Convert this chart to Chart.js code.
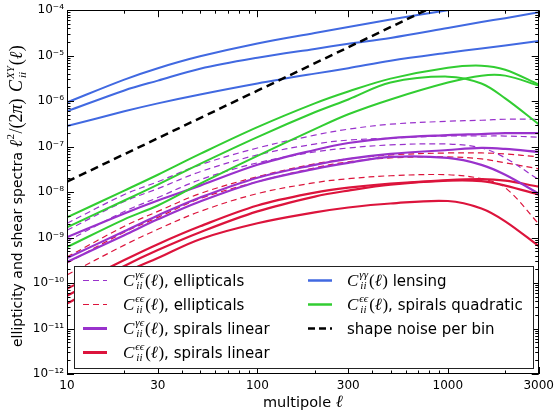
<!DOCTYPE html>
<html>
<head>
<meta charset="utf-8">
<script src="https://cdn.jsdelivr.net/npm/chart.js@4.4.1/dist/chart.umd.min.js"></script>
<style>
    html, body { margin: 0; padding: 0; background: #fff; }
    #caja { width: 559px; height: 417px; }
</style>
</head>
<body>
<div id="caja"><canvas id="grafica" width="559" height="417"></canvas></div>
<script>
const ells = [10, 20, 30, 50, 100, 200, 300, 500, 1000, 1500, 2000, 3000];

// C^{γγ} lensing, three bins
const lensing1 = [9.39e-7, 2.98e-6, 5.31e-6, 9.69e-6, 1.86e-5, 3.15e-5, 4.26e-5, 6.21e-5, 1.0e-4, 1.29e-4, 1.57e-4, 2.02e-4];
const lensing2 = [5.98e-7, 1.72e-6, 2.83e-6, 5.17e-6, 8.99e-6, 1.41e-5, 1.82e-5, 2.45e-5, 4.05e-5, 5.48e-5, 6.69e-5, 9.04e-5];
const lensing3 = [2.82e-7, 5.98e-7, 8.93e-7, 1.4e-6, 2.44e-6, 4.03e-6, 5.31e-6, 7.73e-6, 1.16e-5, 1.44e-5, 1.68e-5, 2.11e-5];

// C^{εε} spirals quadratic
const quad1 = [2.78e-9, 1.08e-8, 2.41e-8, 6.91e-8, 2.68e-7, 8.93e-7, 1.63e-6, 3.13e-6, 5.44e-6, 6.02e-6, 4.92e-6, 2.32e-6];
const quad2 = [1.68e-9, 6.53e-9, 1.46e-8, 4.18e-8, 1.62e-7, 5.69e-7, 1.09e-6, 2.56e-6, 3.46e-6, 2.44e-6, 1.15e-6, 3.11e-7];
const quad3 = [6.17e-10, 2.52e-9, 5.08e-9, 1.53e-8, 6.25e-8, 2.42e-7, 5.14e-7, 1.09e-6, 2.56e-6, 3.64e-6, 3.64e-6, 2.2e-6];

// C^{γε} ellipticals (dashed purple)
const gammaEll1 = [2.06e-9, 8.82e-9, 1.69e-8, 3.98e-8, 9.34e-8, 1.79e-7, 2.42e-7, 3.11e-7, 3.62e-7, 3.8e-7, 4.0e-7, 4.0e-7];
const gammaEll2 = [1.45e-9, 6.21e-9, 1.19e-8, 2.8e-8, 6.57e-8, 1.14e-7, 1.39e-7, 1.54e-7, 1.71e-7, 1.71e-7, 1.71e-7, 1.62e-7];
const gammaEll3 = [8.34e-10, 3.76e-9, 7.59e-9, 1.87e-8, 4.4e-8, 7.64e-8, 9.34e-8, 1.09e-7, 1.14e-7, 9.34e-8, 5.65e-8, 1.87e-8];

// C^{γε} spirals linear (solid purple)
const gammaSpi1 = [1.02e-9, 3.4e-9, 6.53e-9, 1.39e-8, 3.98e-8, 8.44e-8, 1.2e-7, 1.54e-7, 1.79e-7, 1.89e-7, 1.98e-7, 1.98e-7];
const gammaSpi2 = [3.55e-10, 1.38e-9, 3.07e-9, 7.59e-9, 2.07e-8, 3.98e-8, 5.37e-8, 6.91e-8, 8.44e-8, 9.34e-8, 8.88e-8, 7.64e-8];
const gammaSpi3 = [2.91e-10, 1.13e-9, 2.52e-9, 6.21e-9, 1.69e-8, 3.25e-8, 4.4e-8, 5.94e-8, 5.65e-8, 3.98e-8, 2.41e-8, 9.28e-9];

// C^{εε} ellipticals (dashed red)
const epsEll1 = [3.73e-10, 1.77e-9, 3.76e-9, 9.28e-9, 2.18e-8, 4.18e-8, 5.37e-8, 6.57e-8, 7.26e-8, 7.26e-8, 6.91e-8, 5.94e-8];
const epsEll2 = [2.76e-10, 1.31e-9, 2.78e-9, 7.22e-9, 1.69e-8, 3.42e-8, 4.62e-8, 5.65e-8, 5.94e-8, 5.37e-8, 4.4e-8, 3.25e-8];
const epsEll3 = [1.51e-10, 6.82e-10, 1.52e-9, 3.76e-9, 9.28e-9, 1.61e-8, 1.97e-8, 2.29e-8, 2.41e-8, 1.97e-8, 1.25e-8, 2.0e-9];

// C^{εε} spirals linear (solid red)
const epsSpi1 = [7.49e-11, 3.21e-10, 7.17e-10, 1.77e-9, 5.08e-9, 9.75e-9, 1.25e-8, 1.53e-8, 1.83e-8, 1.92e-8, 1.78e-8, 1.32e-8];
const epsSpi2 = [5.28e-11, 2.38e-10, 5.31e-10, 1.31e-9, 3.76e-9, 7.98e-9, 1.08e-8, 1.46e-8, 1.78e-8, 1.74e-8, 1.39e-8, 8.82e-9];
const epsSpi3 = [3.53e-11, 1.67e-10, 3.55e-10, 9.22e-10, 2.06e-9, 3.57e-9, 4.59e-9, 5.62e-9, 6.37e-9, 4.37e-9, 2.28e-9, 6.49e-10];

// shape noise per bin
const noiseElls = [10, 100, 1000];
const noise = [1.7e-8, 1.7e-6, 1.7e-4];

// tick labels
const xTickLabels = [10, 30, 100, 300, 1000, 3000];
const yTickLabels = [1e-12, 1e-11, 1e-10, 1e-9, 1e-8, 1e-7, 1e-6, 1e-5, 1e-4];

const AZUL = "royalblue";
const VERDE = "limegreen";
const MORADO = "darkorchid";
const ROJO = "crimson";
const SERIF = '"Liberation Serif", "DejaVu Serif", serif';
const SANS = '"DejaVu Sans", sans-serif';

// minor + major tick positions
let xTicks = [];
for (let d = 10; d <= 1000; d *= 10) {
    for (let m = 1; m <= 9; m++) {
        if (m * d <= 3000) xTicks.push(m * d);
    }
}
let yTicks = [];
for (let e = -12; e <= -5; e++) {
    for (let m = 1; m <= 9; m++) yTicks.push(parseFloat(m + "e" + e));
}
yTicks.push(1e-4);

function esDecada(v) {
    let l = Math.log10(v);
    return Math.abs(l - Math.round(l)) < 1e-6;
}

const SUP = { "-": "\u207B", "0": "\u2070", "1": "\u00B9", "2": "\u00B2", "3": "\u00B3", "4": "\u2074",
    "5": "\u2075", "6": "\u2076", "7": "\u2077", "8": "\u2078", "9": "\u2079" };
function superindice(n) {
    return String(n).split("").map(c => SUP[c]).join("");
}

function serie(xs, ys, label, color, width, dash) {
    return {
        label: label,
        data: xs.map((x, i) => ({ x: x, y: ys[i] })),
        borderColor: color,
        borderWidth: width,
        borderDash: dash,
        pointRadius: 0,
        fill: false,
        tension: 0.35,
        clip: 0
    };
}

// C_ii^{sup}(ℓ) drawn at baseline y, returns end x
function dibujaC(ctx, x, y, sup, sub, size) {
    ctx.font = "italic " + size + "px " + SERIF;
    ctx.fillText("C", x, y);
    x += ctx.measureText("C").width + 1;
    let chico = Math.round(size * 0.62);
    ctx.font = "italic " + chico + "px " + SERIF;
    ctx.fillText(sup, x, y - size * 0.42);
    ctx.fillText(sub, x + 1, y + size * 0.22);
    x += Math.max(ctx.measureText(sup).width, ctx.measureText(sub).width + 1) + 1;
    ctx.font = size + "px " + SERIF;
    ctx.fillText("(", x, y);
    x += ctx.measureText("(").width;
    ctx.font = "italic " + size + "px " + SERIF;
    ctx.fillText("\u2113", x, y);
    x += ctx.measureText("\u2113").width + 0.5;
    ctx.font = size + "px " + SERIF;
    ctx.fillText(")", x, y);
    return x + ctx.measureText(")").width;
}

const filasLeyenda = [
    { col: 0, fila: 0, color: MORADO, width: 1.2, dash: [6, 4], sup: "\u03B3\u03F5", rest: ", ellipticals" },
    { col: 0, fila: 1, color: ROJO, width: 1.2, dash: [6, 4], sup: "\u03F5\u03F5", rest: ", ellipticals" },
    { col: 0, fila: 2, color: MORADO, width: 3, dash: [], sup: "\u03B3\u03F5", rest: ", spirals linear" },
    { col: 0, fila: 3, color: ROJO, width: 3, dash: [], sup: "\u03F5\u03F5", rest: ", spirals linear" },
    { col: 1, fila: 0, color: AZUL, width: 2.5, dash: [], sup: "\u03B3\u03B3", rest: " lensing" },
    { col: 1, fila: 1, color: VERDE, width: 2.5, dash: [], sup: "\u03F5\u03F5", rest: ", spirals quadratic" },
    { col: 1, fila: 2, color: "#000", width: 2.5, dash: [7, 4], sup: null, rest: "shape noise per bin" }
];

const marcoPlugin = {
    id: "marco",
    afterDraw(chart) {
        const ctx = chart.ctx;
        const { left, right, top, bottom } = chart.chartArea;
        const xs = chart.scales.x, ys = chart.scales.y;
        ctx.save();
        ctx.strokeStyle = "#000";
        ctx.lineWidth = 1;
        ctx.setLineDash([]);
        // inward ticks on all four sides
        ctx.beginPath();
        xs.ticks.forEach(t => {
            let px = Math.round(xs.getPixelForValue(t.value)) + 0.5;
            let len = xTickLabels.includes(t.value) ? 7 : 3.5;
            ctx.moveTo(px, bottom); ctx.lineTo(px, bottom - len);
            ctx.moveTo(px, top); ctx.lineTo(px, top + len);
        });
        ys.ticks.forEach(t => {
            let py = Math.round(ys.getPixelForValue(t.value)) + 0.5;
            let len = esDecada(t.value) ? 7 : 3.5;
            ctx.moveTo(left, py); ctx.lineTo(left + len, py);
            ctx.moveTo(right, py); ctx.lineTo(right - len, py);
        });
        ctx.stroke();
        ctx.strokeRect(Math.round(left) + 0.5, Math.round(top) + 0.5,
            Math.round(right - left) - 1, Math.round(bottom - top) - 1);

        // legend
        const lx = 74.5, ly = 266.5, lw = 459, lh = 102;
        ctx.fillStyle = "#fff";
        ctx.fillRect(lx, ly, lw, lh);
        ctx.strokeStyle = "#222";
        ctx.strokeRect(lx, ly, lw, lh);
        const handleX = [83, 308], textX = [123, 347];
        filasLeyenda.forEach(f => {
            let base = 285.5 + f.fila * 24;
            let hy = base - 5;
            ctx.strokeStyle = f.color;
            ctx.lineWidth = f.width;
            ctx.setLineDash(f.dash);
            ctx.beginPath();
            ctx.moveTo(handleX[f.col], hy);
            ctx.lineTo(handleX[f.col] + 24, hy);
            ctx.stroke();
            ctx.setLineDash([]);
            ctx.fillStyle = "#000";
            ctx.textBaseline = "alphabetic";
            ctx.textAlign = "left";
            let x = textX[f.col];
            if (f.sup) x = dibujaC(ctx, x, base, f.sup, "ii", 17);
            ctx.font = "15px " + SANS;
            ctx.fillText(f.rest, x, base);
        });

        // x title
        ctx.fillStyle = "#000";
        ctx.font = "14.5px " + SANS;
        let t1 = "multipole ";
        let w1 = ctx.measureText(t1).width;
        ctx.font = "italic 17px " + SERIF;
        let w2 = ctx.measureText("\u2113").width;
        let x0 = (left + right) / 2 - (w1 + w2) / 2;
        ctx.font = "14.5px " + SANS;
        ctx.fillText(t1, x0, 407);
        ctx.font = "italic 17px " + SERIF;
        ctx.fillText("\u2113", x0 + w1, 407);

        // y title, rotated
        ctx.translate(22, 347);
        ctx.rotate(-Math.PI / 2);
        ctx.font = "14px " + SANS;
        let s = "ellipticity and shear spectra ";
        ctx.fillText(s, 0, 0);
        let x = ctx.measureText(s).width;
        ctx.font = "italic 18px " + SERIF;
        ctx.fillText("\u2113", x, 0);
        x += ctx.measureText("\u2113").width + 0.5;
        ctx.font = "11px " + SERIF;
        ctx.fillText("2", x, -8);
        x += ctx.measureText("2").width + 0.5;
        ctx.font = "18px " + SERIF;
        ctx.fillText("/(2", x, 0);
        x += ctx.measureText("/(2").width;
        ctx.font = "italic 18px " + SERIF;
        ctx.fillText("\u03C0", x, 0);
        x += ctx.measureText("\u03C0").width;
        ctx.font = "18px " + SERIF;
        ctx.fillText(")", x, 0);
        x += ctx.measureText(") ").width + 2;
        dibujaC(ctx, x, 0, "XY", "ii", 18);
        ctx.restore();
    }
};

document.addEventListener("DOMContentLoaded", () => {
    let ctxGrafica = document.getElementById("grafica").getContext("2d");

    let opciones = {
        type: "line",
        data: {
            datasets: [
                serie(noiseElls, noise, "shape noise per bin", "#000", 2.5, [8, 5]),
                serie(ells, lensing1, "lensing 1", AZUL, 2, []),
                serie(ells, lensing2, "lensing 2", AZUL, 2, []),
                serie(ells, lensing3, "lensing 3", AZUL, 2, []),
                serie(ells, quad1, "quadratic 1", VERDE, 2, []),
                serie(ells, quad2, "quadratic 2", VERDE, 2, []),
                serie(ells, quad3, "quadratic 3", VERDE, 2, []),
                serie(ells, gammaSpi1, "γε spirals 1", MORADO, 2.2, []),
                serie(ells, gammaSpi2, "γε spirals 2", MORADO, 2.2, []),
                serie(ells, gammaSpi3, "γε spirals 3", MORADO, 2.2, []),
                serie(ells, epsSpi1, "εε spirals 1", ROJO, 2.2, []),
                serie(ells, epsSpi2, "εε spirals 2", ROJO, 2.2, []),
                serie(ells, epsSpi3, "εε spirals 3", ROJO, 2.2, []),
                serie(ells, gammaEll1, "γε ellipticals 1", MORADO, 1.2, [6, 4]),
                serie(ells, gammaEll2, "γε ellipticals 2", MORADO, 1.2, [6, 4]),
                serie(ells, gammaEll3, "γε ellipticals 3", MORADO, 1.2, [6, 4]),
                serie(ells, epsEll1, "εε ellipticals 1", ROJO, 1.2, [6, 4]),
                serie(ells, epsEll2, "εε ellipticals 2", ROJO, 1.2, [6, 4]),
                serie(ells, epsEll3, "εε ellipticals 3", ROJO, 1.2, [6, 4])
            ]
        },
        options: {
            responsive: false,
            maintainAspectRatio: false,
            animation: false,
            devicePixelRatio: 1,
            layout: { padding: { top: 7, right: 16, left: 0, bottom: 0 } },
            plugins: {
                legend: { display: false },
                tooltip: { enabled: false }
            },
            scales: {
                x: {
                    type: "logarithmic",
                    min: 10,
                    max: 3000,
                    grid: { display: false, drawTicks: false },
                    border: { display: false },
                    afterBuildTicks: (scale) => { scale.ticks = xTicks.map(v => ({ value: v })); },
                    afterFit: (scale) => { scale.height = 43; },
                    ticks: {
                        autoSkip: false,
                        maxRotation: 0,
                        padding: 5,
                        color: "#000",
                        font: { family: "DejaVu Sans", size: 12 },
                        callback: (v) => xTickLabels.includes(v) ? String(v) : ""
                    }
                },
                y: {
                    type: "logarithmic",
                    min: 1e-12,
                    max: 1e-4,
                    grid: { display: false, drawTicks: false },
                    border: { display: false },
                    afterBuildTicks: (scale) => { scale.ticks = yTicks.map(v => ({ value: v })); },
                    afterFit: (scale) => { scale.width = 67; },
                    ticks: {
                        autoSkip: false,
                        padding: 3,
                        color: "#000",
                        font: { family: "DejaVu Sans", size: 12 },
                        callback: (v) => esDecada(v) ? "10" + superindice(Math.round(Math.log10(v))) : ""
                    }
                }
            }
        },
        plugins: [marcoPlugin]
    };
    let graficaEspectros = new Chart(ctxGrafica, opciones);
});
</script>
</body>
</html>
